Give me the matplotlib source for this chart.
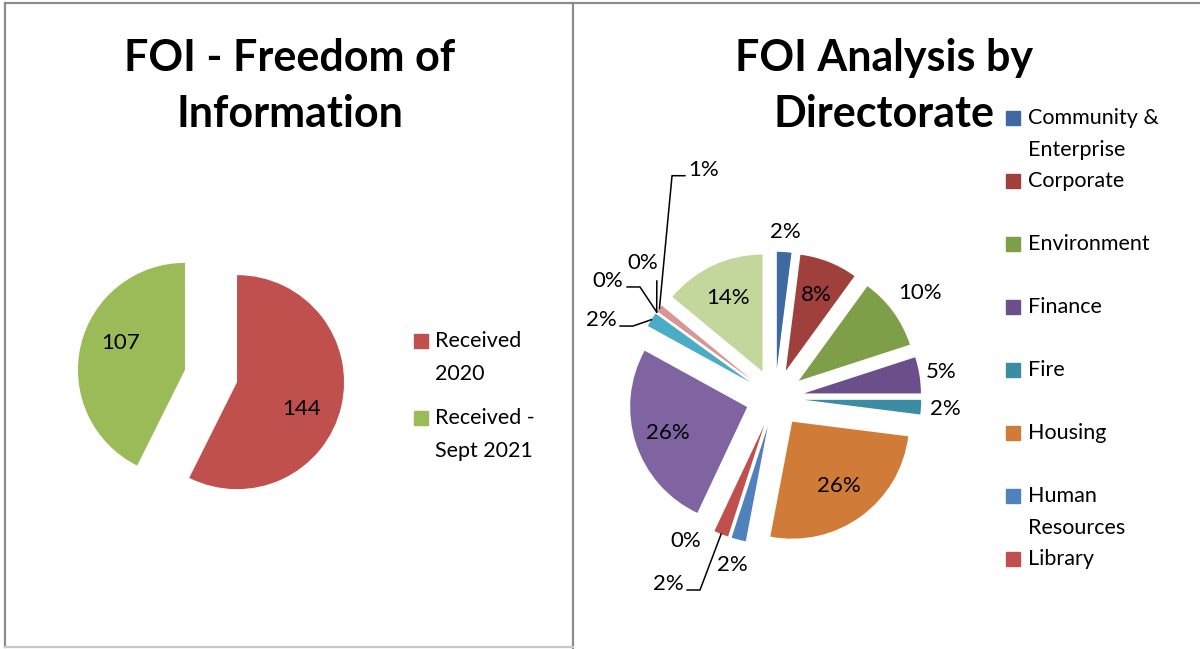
import numpy as np
import matplotlib
matplotlib.use('Agg')
import matplotlib.pyplot as plt
from matplotlib.patches import Rectangle
from matplotlib.lines import Line2D

plt.rcParams['font.family'] = ['Lato', 'DejaVu Sans']

# left chart: requests received
foi_names = ['Received\n2020', 'Received -\nSept 2021']
foi_counts = [144, 107]
foi_colors = ['#C0504D', '#9BBB59']

# right chart: % of requests by directorate (legend only shows the first 8)
dir_names = ['Community &\nEnterprise', 'Corporate', 'Environment', 'Finance',
             'Fire', 'Housing', 'Human\nResources', 'Library']
dir_pct = [2, 8, 10, 5, 2, 26, 2, 2, 0, 26, 2, 0, 0, 1, 14]
dir_colors = ['#3F69A0', '#A0403D', '#7F9E48', '#6A4F8A', '#3A8DA3', '#D07C38',
              '#4F81BD', '#C0504D', '#9BBB59', '#8064A2', '#4BACC6', '#F79646',
              '#95B3D7', '#D99694', '#C3D69B']

W, H = 1200, 649
fig = plt.figure(figsize=(W / 100, H / 100), dpi=100)


def pie_axes(cx, cy, r):
    # axes 4 radii wide so one data unit == r pixels, centre at (cx, cy) from top-left
    ax = fig.add_axes([(cx - 2 * r) / W, (H - cy - 2 * r) / H, 4 * r / W, 4 * r / H])
    return ax


def fig_xy(x, y):
    return x / W, 1 - y / H


def finish(ax):
    ax.set_xlim(-2, 2)
    ax.set_ylim(-2, 2)
    ax.set_aspect('equal')
    ax.axis('off')


# frame lines
for (x0, y0, x1, y1, c) in [(5, 3, 1200, 3, '#8C8C8C'), (5, 3, 5, 647, '#8C8C8C'),
                            (573, 3, 573, 649, '#8C8C8C'), (5, 647, 573, 647, '#C8C8C8')]:
    a, b = fig_xy(x0, y0)
    c2, d = fig_xy(x1, y1)
    fig.add_artist(Line2D([a, c2], [b, d], color=c, lw=1.6, transform=fig.transFigure))

# ---------------- left pie ----------------
axl = pie_axes(211, 376, 107)
wl, _ = axl.pie(foi_counts, colors=foi_colors, startangle=90, counterclock=False,
                explode=[0.25] * len(foi_counts), radius=1)
finish(axl)
for w, n in zip(wl, foi_counts):
    mid = np.deg2rad((w.theta1 + w.theta2) / 2 - 7)
    axl.text(0.9 * np.cos(mid), 0.9 * np.sin(mid), str(n), ha='center', va='center',
             fontsize=16)

fig.text(*fig_xy(290, 86), 'FOI - Freedom of\nInformation', ha='center', va='center',
         fontsize=31, fontweight='bold', linespacing=1.5)

for i, (name, col) in enumerate(zip(foi_names, foi_colors)):
    y = 341 + 77 * i
    fig.add_artist(Rectangle(fig_xy(414, y + 7), 14 / W, 14 / H, color=col,
                             transform=fig.transFigure))
    for j, line in enumerate(name.split('\n')):
        fig.text(*fig_xy(435, y + 33 * j), line, ha='left', va='center', fontsize=15.5)

# ---------------- right pie ----------------
axr = pie_axes(775, 398, 117)
wr, _ = axr.pie(dir_pct, colors=dir_colors, startangle=90, counterclock=False,
                explode=[0.25] * len(dir_pct), radius=1)
finish(axr)

# label distance from pie centre (None -> label with leader line)
label_r = [1.42, 0.95, 1.53, 1.44, 1.46, 0.93, 1.47, None, 1.44, 0.96,
           None, None, None, None, 0.94]
label_ang = {8: -122}
# elbow point of leader line, side of text
leaders = {7: (-0.641, -1.641, -1), 10: (-1.214, 0.615, -1), 11: (-1.154, 0.949, -1),
           12: (-1.01, 1.0, 0), 13: (-0.88, 1.90, 1)}

for i, (w, v) in enumerate(zip(wr, dir_pct)):
    mid_deg = (w.theta1 + w.theta2) / 2
    txt = f'{v:.0f}%'
    if i in leaders:
        ex, ey, side = leaders[i]
        m = np.deg2rad(mid_deg)
        tx, ty = w.center[0] + np.cos(m), w.center[1] + np.sin(m)
        xs, ys = [tx, ex], [ty, ey]
        if side != 0:
            xs.append(ex + 0.11 * side)
            ys.append(ey)
            axr.text(ex + 0.14 * side, ey + 0.05, txt, ha='left' if side > 0 else 'right',
                     va='center', fontsize=16)
        else:
            axr.text(ex - 0.12, ey + 0.15, txt, ha='center', va='center', fontsize=16)
        axr.plot(xs, ys, color='black', lw=1.1, clip_on=False)
    else:
        m = np.deg2rad(label_ang.get(i, mid_deg))
        r = label_r[i]
        axr.text(r * np.cos(m), r * np.sin(m), txt, ha='center', va='center', fontsize=16)

fig.text(*fig_xy(884, 86), 'FOI Analysis by\nDirectorate', ha='center', va='center',
         fontsize=31, fontweight='bold', linespacing=1.5)

for i, name in enumerate(dir_names):
    y = 118 + 63 * i
    fig.add_artist(Rectangle(fig_xy(1006, y + 7), 14 / W, 14 / H, color=dir_colors[i],
                             transform=fig.transFigure))
    for j, line in enumerate(name.split('\n')):
        fig.text(*fig_xy(1028, y + 32 * j), line, ha='left', va='center', fontsize=15.5)

fig.savefig('out.png', dpi=100, facecolor='white')
